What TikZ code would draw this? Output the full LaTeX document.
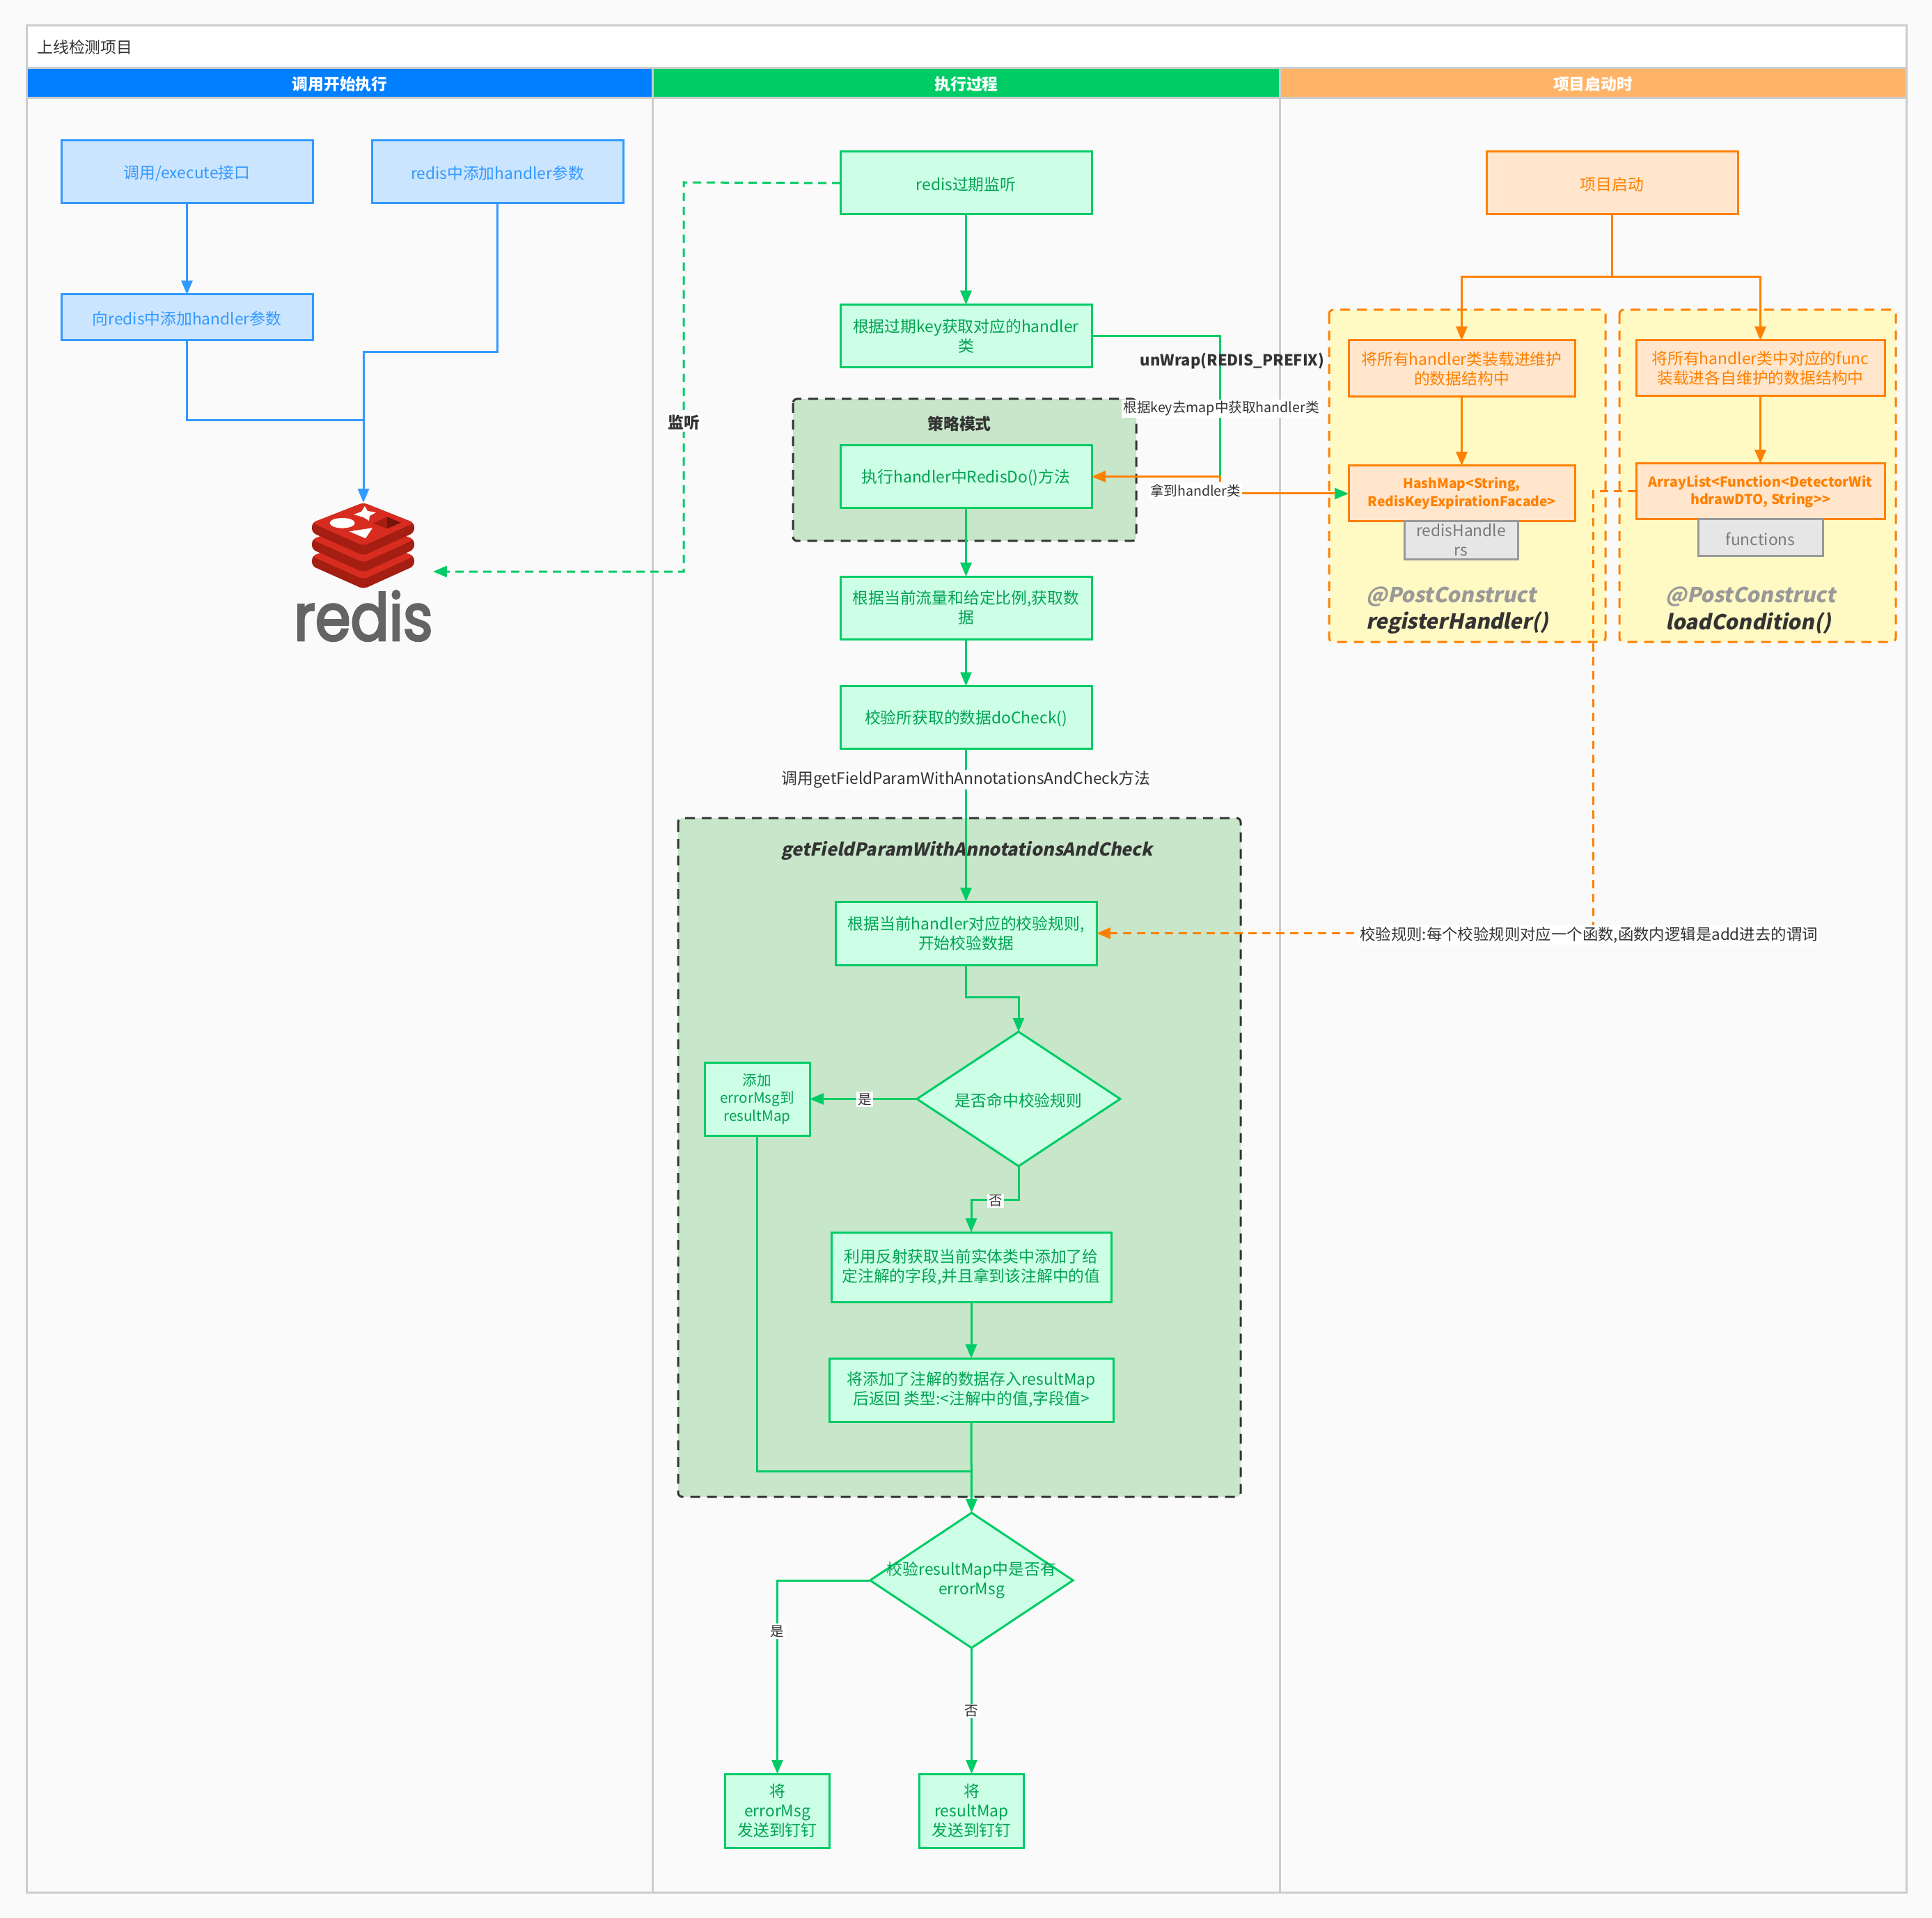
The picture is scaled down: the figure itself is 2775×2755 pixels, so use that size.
\documentclass[tikz,border=0pt]{standalone}
\usepackage{fontspec}
\setmainfont{Noto Sans CJK SC}
\newfontfamily\slantfont{Noto Sans CJK SC}[FakeSlant=0.2]
\newfontfamily\logofont{Poppins}[FakeStretch=0.87,FakeBold=3]
\usetikzlibrary{arrows.meta,shapes.geometric}
\definecolor{pagebg}{HTML}{FAFAFA}
\definecolor{lanegray}{HTML}{CCCCCC}
\definecolor{headblue}{HTML}{007FFF}
\definecolor{headgreen}{HTML}{00CC66}
\definecolor{headorange}{HTML}{FFB366}
\definecolor{blueline}{HTML}{3399FF}
\definecolor{bluefill}{HTML}{CCE5FF}
\definecolor{greenline}{HTML}{00CC66}
\definecolor{greenfill}{HTML}{CCFFE6}
\definecolor{greentext}{HTML}{00A352}
\definecolor{orangeline}{HTML}{FF8000}
\definecolor{orangefill}{HTML}{FFE6CC}
\definecolor{groupgreen}{HTML}{C8E6C9}
\definecolor{groupyellow}{HTML}{FFF9C4}
\definecolor{darktext}{HTML}{333333}
\definecolor{tagfill}{HTML}{E6E6E6}
\definecolor{taggray}{HTML}{999999}
\definecolor{redisbright}{HTML}{D82C20}
\definecolor{redisdark}{HTML}{A41E11}
\definecolor{redisgray}{HTML}{636466}
\tikzset{
  txt/.style={font=\fontsize{11.4pt}{14pt}\selectfont},
  smalltxt/.style={font=\fontsize{9.8pt}{12pt}\selectfont},
  boldtxt/.style={font=\fontsize{11.4pt}{14pt}\selectfont\bfseries},
  boxsize/.style 2 args={minimum width=#1*.5pt,minimum height=#2*.5pt},
  lowertext/.style={execute at begin node={\rule{0pt}{11.5pt}}},
  basebox/.style={draw,line width=1.5pt,inner sep=0pt,outer sep=0pt,align=center,txt,lowertext},
  bluebox/.style={basebox,draw=blueline,fill=bluefill,text=blueline},
  greenbox/.style={basebox,draw=greenline,fill=greenfill,text=greentext},
  orangebox/.style={basebox,draw=orangeline,fill=orangefill,text=orangeline},
  tagbox/.style={basebox,draw=taggray,fill=tagfill,text=taggray!80!black},
  greendiamond/.style={draw,line width=1.5pt,inner sep=0pt,outer sep=0pt,diamond,draw=greenline,fill=greenfill},
  diamondtext/.style={txt,text=greentext,align=center,inner sep=0pt,lowertext},
  group/.style={line width=1.5pt,dashed,dash pattern=on 7pt off 5pt,rounded corners=3pt},
  blueedge/.style={draw=blueline,line width=1.5pt},
  greenedge/.style={draw=greenline,line width=1.5pt},
  orangeedge/.style={draw=orangeline,line width=1.5pt},
  edgelabel/.style={fill=white,text=darktext,inner sep=1pt,smalltxt},
  head/.style={text=white,boldtxt}
}
\begin{document}
\begin{tikzpicture}[x=.5pt,y=-.5pt,>={Triangle[length=10pt,width=8pt]},line join=miter]
\useasboundingbox (0,0) rectangle (2775,2755);
\fill[pagebg] (0,0) rectangle (2775,2755);
% lanes
\fill[white] (38,37) rectangle (2738,98);
\fill[headblue] (38,99) rectangle (937,141);
\fill[headgreen] (938,99) rectangle (1838,141);
\fill[headorange] (1838,99) rectangle (2738,141);
\draw[lanegray,line width=1.5pt] (38,37) rectangle (2738,2718) (38,98)--(2738,98) (38,141)--(2738,141) (937.5,98)--(937.5,2718) (1838,98)--(1838,2718);
\node[txt,text=darktext,anchor=west,inner sep=0pt] (title) at (53,68) {上线检测项目};
\foreach \n/\x/\t in {headone/488/调用开始执行,headtwo/1388/执行过程,headthree/2288/项目启动时}
  \node[head] (\n) at (\x,121) {\t};
% groups
\draw[group,fill=groupgreen,draw=darktext] (1139,573) rectangle (1632,777);
\draw[group,fill=groupgreen,draw=darktext] (974,1175) rectangle (1782,2150);
\draw[group,fill=groupyellow,draw=orangeline] (1909,445) rectangle (2306,922);
\draw[group,fill=groupyellow,draw=orangeline] (2326,445) rectangle (2723,922);
\node[text=darktext,boldtxt] (strategytitle) at (1378,609) {策略模式};
\node[text=darktext,font=\fontsize{12.7pt}{16pt}\slantfont\bfseries] (checktitle) at (1389,1222) {getFieldParamWithAnnotationsAndCheck};
% blue lane
\foreach \n/\x/\y/\w/\h/\t in {call/268.5/247/361/90/{调用/execute接口},param/714.5/247/361/90/{redis中添加handler参数},addparam/268.5/456/361/66/{向redis中添加handler参数}}
  \node[bluebox,boxsize={\w}{\h}] (\n) at (\x,\y) {\t};
% redis logo
\coordinate (redis) at (522,722);
\coordinate (redisright) at (622,821);
\foreach \o in {48,24,0}{
  \fill[redisdark,rounded corners=3pt] (448,751+\o)--(522,722+\o)--(595,751+\o)--(595,765+\o)--(522,798+\o)--(448,765+\o)--cycle;
  \fill[redisbright,rounded corners=3pt] (448,751+\o)--(522,722+\o)--(595,751+\o)--(522,784+\o)--cycle;
}
\fill[white] (491.7,751.3) ellipse (18 and 7.3);
\fill[white] (524,727)--(528,734)--(540,736)--(531,741)--(530,748)--(522,743)--(508,739)--(519,735)--cycle;
\fill[white] (501.7,763.3)--(535,758.3)--(525,773.3)--cycle;
\fill[redisdark] (536,751.7)--(556,742.3)--(556,759.3)--cycle;
\fill[redisdark!70!black] (556,742.3)--(576,750.7)--(556,759.3)--cycle;
\node[text=redisgray,font=\fontsize{47pt}{50pt}\logofont,inner sep=0pt,anchor=base] (redistext) at (522,920) {redis};
% green lane
\foreach \n/\x/\y/\w/\h/\t in {
  expire/1387.5/263/361/90/{redis过期监听},
  findhandler/1387.5/482.5/361/90/{根据过期key获取对应的handler\\类},
  strategy/1387.5/684.5/361/90/{执行handler中RedisDo()方法},
  fetchdata/1387.5/873/361/90/{根据当前流量和给定比例,获取数\\据},
  docheck/1387.5/1030.5/361/90/{校验所获取的数据doCheck()},
  rule/1387.5/1340.5/375/91/{根据当前handler对应的校验规则,\\开始校验数据},
  reflect/1395/1820/402/100/{利用反射获取当前实体类中添加了给\\定注解的字段,并且拿到该注解中的值},
  store/1395/1996.5/408/91/{将添加了注解的数据存入resultMap\\后返回 类型:<注解中的值,字段值>}}
  \node[greenbox,boxsize={\w}{\h}] (\n) at (\x,\y) {\t};
\node[greenbox,font=\fontsize{10.3pt}{12.8pt}\selectfont,boxsize={151}{105}] (adderror) at (1087.5,1578.5) {添加\\errorMsg到\\resultMap};
\node[greenbox,boxsize={150}{106}] (senderror) at (1116.5,2601) {将\\errorMsg\\发送到钉钉};
\node[greenbox,boxsize={150}{106}] (sendresult) at (1395.5,2601) {将\\resultMap\\发送到钉钉};
\node[greendiamond,minimum width=146pt,minimum height=96.5pt] (hit) at (1463,1578.5) {};
\node[diamondtext] (hittext) at (hit) {是否命中校验规则};
\node[greendiamond,minimum width=145.75pt,minimum height=97pt] (hasmsg) at (1395.5,2270) {};
\node[diamondtext] (hasmsgtext) at (1395.5,2270) {校验resultMap中是否有\\errorMsg};
% orange lane
\foreach \n/\x/\y/\w/\h/\t in {
  start/2315.5/263/361/90/{项目启动},
  loadhandler/2099.5/529.5/325/81/{将所有handler类装载进维护\\的数据结构中},
  loadfunc/2528.5/529/357/80/{将所有handler类中对应的func\\装载进各自维护的数据结构中}}
  \node[orangebox,boxsize={\w}{\h}] (\n) at (\x,\y) {\t};
\node[orangebox,boxsize={325}{80},font=\fontsize{9.6pt}{13pt}\selectfont\bfseries] (hashmap) at (2099.5,709) {HashMap<String,\\RedisKeyExpirationFacade>};
\node[orangebox,boxsize={357}{80},font=\fontsize{9.8pt}{12.5pt}\selectfont\bfseries] (arraylist) at (2528.5,706) {ArrayList<Function<DetectorWit\\hdrawDTO, String{>}{>}};
\node[tagbox,boxsize={163}{54}] (handlers) at (2098.5,776) {redisHandle\\rs};
\node[tagbox,boxsize={179}{52}] (functions) at (2528.5,772) {functions};
\foreach \n/\x/\y/\c/\t in {postone/1962/857/taggray/@PostConstruct,regname/1962/895/darktext/registerHandler(),posttwo/2392/857/taggray/@PostConstruct,loadname/2392/895/darktext/loadCondition()}
  \node[anchor=west,inner sep=0pt,text=\c,font=\fontsize{14.8pt}{18pt}\slantfont\bfseries] (\n) at (\x,\y) {\t};
% connectors
\coordinate (bluemerge) at (522,506);
\coordinate (bluejoin) at (522,604);
\coordinate (listenleft) at (982,262);
\coordinate (greenturn) at (1752,684.5);
\coordinate (orangestub) at (1752,692);
\coordinate (ruledown) at (1387.5,1432);
\coordinate (hitdown) at (1463,1723);
\coordinate (backjoin) at (1395.5,2113);
\coordinate (sourcetop) at (2315.5,398);
\coordinate (funcleft) at (2288,706);
\draw[blueedge,->] (call)--(addparam);
\draw[blueedge] (param.south)|-(bluemerge)--(bluejoin);
\draw[blueedge] (addparam.south)|-(bluejoin);
\draw[blueedge,->] (bluejoin)--(redis);
\draw[greenedge,dashed,dash pattern=on 6pt off 4pt,->] (expire.west)--(listenleft)|-(redisright);
\draw[greenedge,->] (expire)--(findhandler);
\draw[greenedge] (findhandler.east)-|(greenturn);
\draw[greenedge,->] (strategy)--(fetchdata);
\draw[greenedge,->] (fetchdata)--(docheck);
\draw[greenedge,->] (docheck)--(rule);
\draw[greenedge,->] (rule.south)--(ruledown)-|(hit.north);
\draw[greenedge,->] (hit)--(adderror);
\draw[greenedge,->] (hit.south)--(hitdown)-|(reflect.north);
\draw[greenedge,->] (reflect)--(store);
\draw[greenedge,->] (store.south)--(hasmsg.north);
\draw[greenedge] (adderror.south)|-(backjoin);
\draw[greenedge,->] (hasmsg.west)-|(senderror.north);
\draw[greenedge,->] (hasmsg)--(sendresult);
\draw[orangeedge,->] (greenturn)--(strategy.east);
\draw[orangeedge] (greenturn)--(orangestub);
\draw[orangeedge] (start.south)--(sourcetop);
\draw[orangeedge,->] (sourcetop)-|(loadhandler.north);
\draw[orangeedge,->] (sourcetop)-|(loadfunc.north);
\draw[orangeedge,->] (loadhandler)--(hashmap);
\draw[orangeedge,->] (loadfunc)--(arraylist);
\draw[orangeedge,dashed,dash pattern=on 6pt off 4pt,->] (arraylist.west)--(funcleft)|-(rule.east);
% edge labels
\node[text=darktext,inner sep=1pt,font=\fontsize{11pt}{14pt}\selectfont\bfseries] (unwrap) at (1770,519) {unWrap(REDIS\_PREFIX)};
\node[edgelabel] (getmap) at (1754,587) {根据key去map中获取handler类};
\node[edgelabel] (gotclass) at (1717,705) {拿到handler类};
\draw[greenedge,->] (gotclass.east|-hashmap)--(hashmap.west);
\draw[orangeedge,shorten >=9pt] (gotclass.east|-hashmap)--(hashmap.west);
\node[edgelabel,boldtxt] (listen) at (982,607) {监听};
\node[edgelabel,txt] (callcheck) at (1387.5,1120) {调用getFieldParamWithAnnotationsAndCheck方法};
\node[edgelabel,font=\fontsize{11.2pt}{14pt}\selectfont] (rulelabel) at (2282,1343) {校验规则:每个校验规则对应一个函数,函数内逻辑是add进去的谓词};
\foreach \n/\x/\y/\t in {hityes/1242/1579/是,hitno/1430/1725/否,msgyes/1116.5/2343/是,msgno/1395.5/2458/否}
  \node[edgelabel] (\n) at (\x,\y) {\t};
\end{tikzpicture}
\end{document}
